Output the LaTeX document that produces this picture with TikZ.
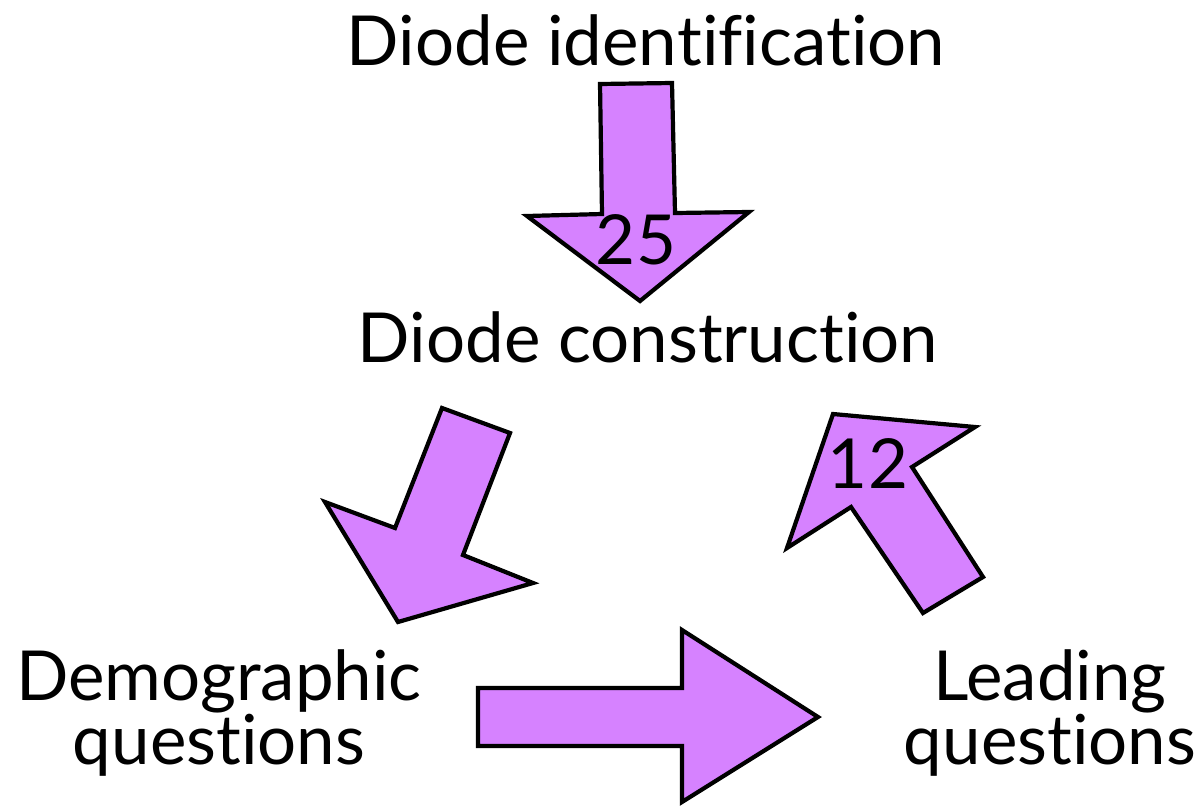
\documentclass[tikz,border=0pt]{standalone}
\usepackage{fontspec}
\setmainfont[Ligatures={NoCommon,NoDiscretionary,NoContextual},Contextuals=NoAlternate]{Lato}
\definecolor{arrowfill}{RGB}{214,130,255}
\begin{document}
\begin{tikzpicture}[x=1pt,y=-1pt,
  bigarrow/.style={fill=arrowfill,draw=black,line width=4.2pt,line join=miter},
  lbl/.style={anchor=base,inner sep=0pt,font=\fontsize{69}{58}\selectfont},
  twoline/.style={lbl,align=center}]
\useasboundingbox (0,0) rectangle (1201,806);
% arrows
\draw[bigarrow] (600,84) -- (672,83) -- (675,213) -- (749,212) -- (640,301) -- (527,216) -- (602,214) -- cycle;
\draw[bigarrow] (442,408) -- (510,433) -- (463,555) -- (533,583) -- (398,622) -- (325,502) -- (395,528) -- cycle;
\draw[bigarrow] (833,414) -- (975,427) -- (912,467) -- (983,577) -- (923,613) -- (851,507) -- (787,548) -- cycle;
\draw[bigarrow] (478,688) -- (682,688) -- (682,630) -- (818,717) -- (682,802) -- (682,746) -- (478,746) -- cycle;
% labels
\node[lbl] (ident) at (646,65) {Diode iden\kern0ptt\kern0ptification};
\node[lbl] (constr) at (648,362) {Diode construc\kern0ptt\kern0ption};
\node[twoline] (demo) at (219,764) {Demographic\\ques\kern0ptt\kern0ptions};
\node[twoline] (lead) at (1050,764) {Leading\\ques\kern0ptt\kern0ptions};
\node[lbl] (n25) at (636,264) {25};
\node[lbl] (n12) at (868,488) {12};
\end{tikzpicture}
\end{document}
